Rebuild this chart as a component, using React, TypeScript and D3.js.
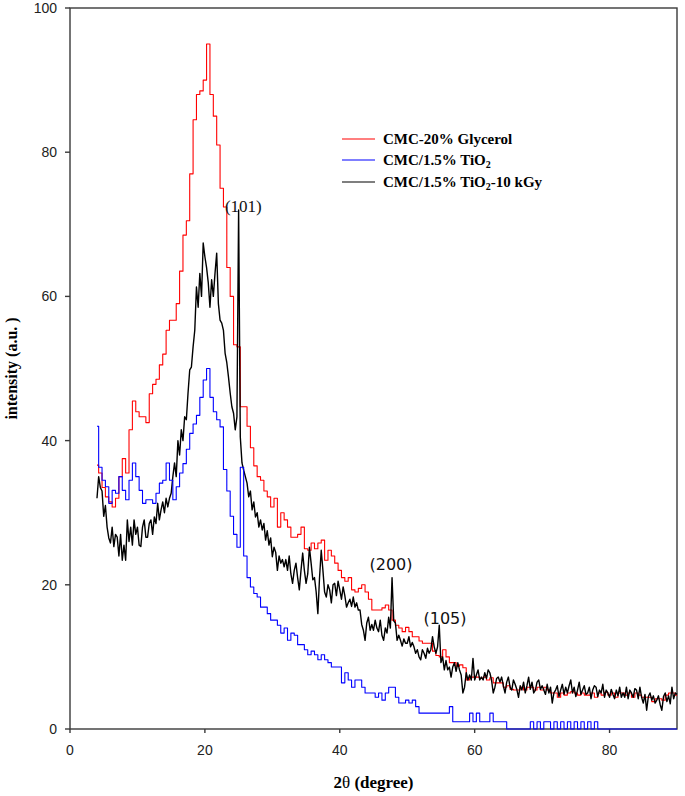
import React from 'react';
import * as d3 from 'd3';

// ---------- data ----------
const X_TICKS = [0, 20, 40, 60, 80];
const Y_TICKS = [0, 20, 40, 60, 80, 100];
const X_DOMAIN = [0, 90];
const Y_DOMAIN = [0, 100];
const X_START = 4;
const COARSE_STEP = 0.5;
const FINE_STEP = 0.25;

// CMC-20% Glycerol, 2θ = 4 .. 90 every 0.5°
const glycerol = [
  36.6, 35.5, 33.5, 32.2, 31.5, 30.8, 32, 35, 37.5, 35.5,
  41.5, 45.5, 44, 43.3, 43.3, 42.5, 46.5, 47.8, 48.5, 50.5,
  52, 55.3, 56.7, 56.7, 59, 63.5, 68.5, 70.5, 77, 84.5,
  88, 88.5, 90, 95, 88, 85, 81, 75, 72.4, 64,
  60, 53.3, 53, 44.7, 44.7, 42, 39, 36.5, 35, 34.5,
  33, 32.2, 30.8, 32, 28, 30, 29, 28, 26.6, 26.6,
  27, 28, 25, 24.8, 25.8, 25, 25.8, 26.2, 23.4, 24.8,
  24, 23, 22, 21, 20.5, 21, 19.3, 19, 19.5, 20,
  19, 18, 16.5, 16.5, 16.5, 16.8, 17.2, 16.5, 15.1, 14.4,
  14, 13.5, 14.1, 13.5, 12.8, 12.8, 12.2, 11.9, 11.9, 11.9,
  10.8, 10.2, 10, 11, 10, 9.2, 9.2, 8.7, 8.9, 8.5,
  6.8, 7.2, 7.2, 7.2, 7, 7.2, 6.8, 7.1, 6.4, 6.4,
  6.4, 5.8, 6, 5.5, 5.4, 5.4, 5.8, 5.4, 5.8, 5.8,
  5.4, 5.8, 5.4, 5.8, 5.4, 5, 5, 4.4, 5, 4.7,
  5, 5.2, 5, 4.7, 5, 4.7, 4.7, 5, 4.4, 5,
  4.7, 5.1, 4.7, 5, 4.4, 5, 5, 4.7, 5, 4.4,
  5, 4.7, 4.4, 4.4, 4.4, 3.8, 4.2, 4.2, 4, 4.7,
  5, 5, 4.7,
];

// CMC/1.5% TiO2, 2θ = 4 .. 90 every 0.5°
const tio2 = [
  42, 36.3, 34.5, 33.6, 31.3, 33.1, 32.7, 35, 33.1, 31.8,
  34.5, 36.9, 35, 33.1, 31.3, 31.8, 31.8, 31.3, 32.7, 34.1,
  34.5, 36.9, 34.5, 31.8, 33.6, 35.5, 36.8, 38.8, 41, 42.3,
  43.5, 46, 48.4, 50, 46, 44, 42.9, 41.9, 36, 33,
  29.5, 27, 25.2, 36.3, 24, 21, 19.7, 18.8, 18.3, 16.9,
  16.9, 16, 15.1, 15.1, 14.4, 13.3, 14, 12.3, 13.3, 13,
  11.7, 11.7, 11, 10.3, 10.8, 10.3, 9.6, 10.3, 9.6, 9.2,
  8.6, 8.6, 8.6, 6.4, 7.8, 6.8, 5.8, 6.8, 6.8, 5.8,
  5, 5, 5, 4.4, 5, 4, 5, 5.8, 5.8, 4.4,
  3.6, 3.6, 4, 3.6, 4, 3.1, 2.2, 2.2, 2.2, 2.2,
  2.2, 2.2, 2.2, 2.2, 2.2, 3.1, 1, 1, 1, 1,
  1, 2.2, 1, 2.2, 1, 1, 1, 2.2, 1, 1,
  1, 1, 0, 0, 0, 0, 0, 0, 0, 1,
  0, 1, 0, 1, 1, 0, 1, 0, 1, 0,
  1, 0, 1, 0, 1, 0, 1, 0, 1, 0,
  0, 0, 0, 0, 0, 0, 0, 0, 0, 0,
  0, 0, 0, 0, 0, 0, 0, 0, 0, 0,
  0, 0, 0,
];

// CMC/1.5% TiO2-10 kGy, 2θ = 4 .. 90 every 0.25°
const irradiated = [
  32, 35, 33.5, 33, 29.5, 31, 28, 26.5,
  25.8, 28, 25.3, 27, 26.6, 24, 27, 23.4,
  25.5, 23.4, 29, 26, 28, 25.5, 29, 27,
  28, 25.5, 25.3, 28, 29, 26.6, 26.6, 28.5,
  29, 27, 29.4, 28.5, 31.3, 29, 30.4, 31.5,
  30, 32, 30.8, 32, 32.7, 35, 36.9, 35,
  40, 38, 41.5, 40, 43.3, 42.9, 46.6, 49.8,
  50.2, 53, 55.3, 61.3, 58.5, 63.2, 60, 67.4,
  65.5, 64, 61.9, 58.5, 62.3, 60, 63.2, 66,
  59, 56.7, 56.3, 55.3, 52.1, 50.8, 48.8, 46.6,
  44.7, 43.8, 41.5, 43.3, 72, 40.5, 36.9, 35.9,
  35, 34.1, 32.2, 33, 30.4, 31.5, 29.4, 30,
  28, 29, 27.6, 28.5, 26.2, 27.5, 25.5, 26.5,
  23.9, 25.2, 24.5, 22, 24, 23, 23.5, 22.5,
  23.5, 22, 24, 21.5, 20.2, 22, 23, 21,
  19.3, 22, 24.4, 22, 20.2, 21.5, 25.2, 23,
  20.7, 21, 19, 16, 21, 24.8, 22, 19,
  18.3, 20, 19.3, 17.5, 20, 20.2, 18.5, 20.5,
  19.3, 18, 19.7, 18.5, 16.9, 17.5, 18, 17,
  18.3, 16.9, 17.5, 16.5, 16.5, 14.5, 13.7, 12.3,
  14.7, 15.5, 13.7, 14.5, 13.7, 15.1, 14, 13.5,
  15.1, 13, 12.3, 14, 13.3, 15.5, 14, 21,
  15, 14.7, 12.3, 13, 12.3, 11.5, 12.5, 11.9,
  11.9, 12.8, 11.4, 12, 11.4, 10.5, 11, 10,
  9.6, 11, 10.5, 9.8, 11.2, 10.5, 11, 12.8,
  11.4, 10.5, 11.4, 14.4, 9.2, 10, 8.2, 9.5,
  8.2, 8.6, 7.2, 8.6, 9.2, 8, 9.2, 8.2,
  7.5, 5, 5.8, 7.8, 6.8, 7.5, 6.8, 9.8,
  6.8, 7.5, 8.2, 6.8, 7.2, 6.8, 7.8, 7,
  8.2, 7.8, 6.8, 5, 5.8, 7, 7.2, 6.5,
  7.2, 6, 5, 6.5, 7.2, 5.8, 5.4, 6.8,
  6.2, 5.5, 4.4, 6, 5.4, 6.5, 5, 6,
  7.2, 5.5, 6.5, 5, 5.4, 6.5, 6.8, 5.5,
  6, 5.4, 4.8, 6.2, 5, 5.8, 3.6, 5,
  5.4, 6, 4.5, 5.4, 6.2, 4.8, 5.8, 5,
  6, 6.8, 5, 5.8, 4.5, 5.4, 6.5, 4.8,
  5.4, 6, 4.8, 5, 5.8, 4.2, 5.4, 6,
  5.8, 4.5, 5.4, 5, 6.2, 4.4, 5.4, 5,
  4.4, 5.5, 4.8, 4.2, 5.4, 4.6, 5.8, 4.4,
  5, 4.4, 5.8, 4.2, 5.4, 5, 4.4, 5.6,
  5.4, 4.2, 5.8, 4.4, 3.6, 4.8, 2.6, 4.5,
  5, 4, 4.6, 3.6, 4, 4.6, 3.4, 2.6,
  4.5, 5, 3.8, 4.6, 3.5, 5.8, 4.2, 5,
  4.8,
];

const peakNames = ['(101)', '(200)', '(105)'];
const peakX = [25.7, 47.6, 55.6];
const peakY = [71.7, 22.05, 14.6];

const legendNames = ['CMC-20% Glycerol', 'CMC/1.5% TiO', 'CMC/1.5% TiO'];
const legendSuffix = ['', '', '-10 kGy'];
const legendSub = [false, true, true];

// ---------- layout ----------
const W = 685;
const H = 796;
const L = 70, R = 677, T = 8, B = 729;

export default function App() {
  const x = d3.scaleLinear().domain(X_DOMAIN).range([L, R]);
  const y = d3.scaleLinear().domain(Y_DOMAIN).range([B, T]);

  const coarse = (arr: number[]) => arr.map((v, i) => [X_START + i * COARSE_STEP, v] as [number, number]);
  const fine = (arr: number[]) => arr.map((v, i) => [X_START + i * FINE_STEP, v] as [number, number]);

  const stepLine = d3.line<[number, number]>().x(d => x(d[0])).y(d => y(d[1])).curve(d3.curveStep);
  const linLine = d3.line<[number, number]>().x(d => x(d[0])).y(d => y(d[1]));

  const series = [
    { d: stepLine(coarse(glycerol)), color: '#ff0000', w: 1.1 },
    { d: linLine(fine(irradiated)), color: '#000000', w: 1.4 },
    { d: stepLine(coarse(tio2)), color: '#0000ff', w: 1.1 },
  ];

  const legendColors = ['#ff0000', '#0000ff', '#000000'];
  const legendY = [139, 160, 182];
  const axisColor = '#3a3a3a';

  return (
    <svg width={W} height={H} style={{ position: 'absolute', left: 0, top: 0, background: '#fff' }}>
      <defs>
        <clipPath id="plot">
          <rect x={L} y={T - 1} width={R - L + 1} height={B - T + 2} />
        </clipPath>
      </defs>

      {/* frame */}
      <rect x={L} y={T} width={R - L} height={B - T} fill="none" stroke={axisColor} strokeWidth={1.4} />

      {/* y ticks */}
      {Y_TICKS.map(t => (
        <g key={'y' + t}>
          <line x1={L - 5} x2={L} y1={y(t)} y2={y(t)} stroke={axisColor} strokeWidth={1.4} />
          <text x={L - 13} y={y(t) + 5} textAnchor="end" fontFamily="'Liberation Sans', Arial, sans-serif" fontSize={14} fill="#222">{t}</text>
        </g>
      ))}
      {/* x ticks */}
      {X_TICKS.map(t => (
        <g key={'x' + t}>
          <line x1={x(t)} x2={x(t)} y1={B} y2={B + 4} stroke={axisColor} strokeWidth={1.4} />
          <text x={x(t)} y={B + 26} textAnchor="middle" fontFamily="'Liberation Sans', Arial, sans-serif" fontSize={14} fill="#222">{t}</text>
        </g>
      ))}

      {/* series */}
      <g clipPath="url(#plot)">
        {series.map((s, i) => (
          <path key={i} d={s.d || ''} fill="none" stroke={s.color} strokeWidth={s.w} strokeLinejoin="round" />
        ))}
      </g>

      {/* peak labels */}
      {peakNames.map((n, i) => (
        <text key={n} x={x(peakX[i])} y={y(peakY[i])} textAnchor="middle"
          fontFamily={i === 0 ? "'Liberation Serif', 'Times New Roman', serif" : "'DejaVu Sans', Verdana, sans-serif"}
          fontSize={i === 0 ? 17 : 16} fill="#111">{n}</text>
      ))}

      {/* legend */}
      {legendNames.map((n, i) => (
        <g key={'lg' + i}>
          <line x1={342} x2={375} y1={legendY[i]} y2={legendY[i]} stroke={legendColors[i]} strokeWidth={1.2} />
          <text x={383} y={legendY[i] + 5} fontFamily="'Liberation Serif', 'Times New Roman', serif" fontWeight="bold" fontSize={15} fill="#000">
            {n}
            {legendSub[i] && <tspan fontSize={10} dy={3}>2</tspan>}
            {legendSuffix[i] && <tspan dy={legendSub[i] ? -3 : 0}>{legendSuffix[i]}</tspan>}
          </text>
        </g>
      ))}

      {/* axis titles */}
      <text x={(L + R) / 2} y={788} textAnchor="middle" fontFamily="'Liberation Serif', 'Times New Roman', serif" fontWeight="bold" fontSize={17} fill="#000">
        2<tspan fontWeight="normal">θ</tspan> (degree)
      </text>
      <text transform={`translate(17, ${(T + B) / 2}) rotate(-90)`} textAnchor="middle" fontFamily="'Liberation Serif', 'Times New Roman', serif" fontWeight="bold" fontSize={16} fill="#000">
        intensity (a.u. )
      </text>
    </svg>
  );
}
